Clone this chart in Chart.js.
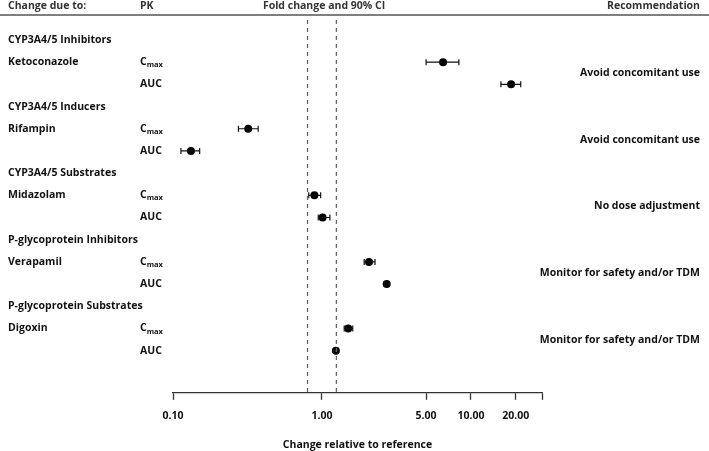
<!DOCTYPE html>
<html>
<head>
<meta charset="utf-8">
<script src="https://cdn.jsdelivr.net/npm/chart.js@4/dist/chart.umd.min.js"></script>
<style>
    body { margin: 0; background: #fff; }
    #wrap { width: 709px; height: 451px; position: relative; }
</style>
</head>
<body>
<div id="wrap"><canvas id="ddiChart"></canvas></div>
<script>
// Dados do gráfico
const groups = ['CYP3A4/5 Inhibitors', 'CYP3A4/5 Inducers', 'CYP3A4/5 Substrates', 'P-glycoprotein Inhibitors', 'P-glycoprotein Substrates'];
const drugs = ['Ketoconazole', 'Rifampin', 'Midazolam', 'Verapamil', 'Digoxin'];
const recommendations = ['Avoid concomitant use', 'Avoid concomitant use', 'No dose adjustment', 'Monitor for safety and/or TDM', 'Monitor for safety and/or TDM'];
const cmaxRatio = [6.5, 0.32, 0.89, 2.07, 1.50];
const cmaxLower = [5.0, 0.275, 0.815, 1.92, 1.41];
const cmaxUpper = [8.3, 0.373, 0.98, 2.27, 1.61];
const aucRatio = [18.6, 0.132, 1.01, 2.72, 1.24];
const aucLower = [15.9, 0.113, 0.944, 2.62, 1.20];
const aucUpper = [21.6, 0.151, 1.13, 2.84, 1.28];
const xTicks = [0.1, 1, 5, 10, 20, 30];
const ciBounds = [0.8, 1.25];

const FONT = "'Open Sans', 'DejaVu Sans', sans-serif";
const yMin = -0.9, yMax = 15.9;

// linhas: grupo i -> linha 3i (titulo), 3i+1 (Cmax), 3i+2 (AUC)
const datasets = [];

ciBounds.forEach(b => {
    datasets.push({
        data: [{ x: b, y: yMin }, { x: b, y: yMax }],
        showLine: true,
        borderColor: '#666',
        borderWidth: 1.3,
        borderDash: [4, 4],
        pointRadius: 0
    });
});

function errorBar(lo, hi, row) {
    datasets.push({
        data: [{ x: lo, y: row }, { x: hi, y: row }],
        showLine: true,
        borderColor: '#111',
        borderWidth: 1.2,
        pointStyle: 'line',
        rotation: 90,
        pointRadius: 3,
        pointBorderColor: '#111',
        pointBorderWidth: 1.2
    });
}

const centers = [];
for (let i = 0; i < drugs.length; i++) {
    errorBar(cmaxLower[i], cmaxUpper[i], 3 * i + 1);
    errorBar(aucLower[i], aucUpper[i], 3 * i + 2);
    centers.push({ x: cmaxRatio[i], y: 3 * i + 1 });
    centers.push({ x: aucRatio[i], y: 3 * i + 2 });
}

datasets.push({
    data: centers,
    pointRadius: 4,
    pointBackgroundColor: '#000',
    pointBorderColor: '#000',
    pointBorderWidth: 0
});

// Textos das colunas (grupos, farmacos, PK, recomendacoes)
const tablePlugin = {
    id: 'tableText',
    afterDraw(chart) {
        const c = chart.ctx;
        const y = chart.scales.y;
        const W = chart.width;
        c.save();
        c.textBaseline = 'middle';

        // cabecalho
        c.fillStyle = '#333';
        c.font = 'bold 10.5px ' + FONT;
        c.textAlign = 'left';
        c.fillText('Change due to:', 8, 6);
        c.fillText('PK', 140, 6);
        c.textAlign = 'center';
        c.fillText('Fold change and 90% CI', 324, 6);
        c.textAlign = 'right';
        c.fillText('Recommendation', 700, 6);
        c.strokeStyle = '#555';
        c.lineWidth = 1.5;
        c.beginPath();
        c.moveTo(0, 15);
        c.lineTo(W, 15);
        c.stroke();

        c.fillStyle = '#111';
        for (let i = 0; i < groups.length; i++) {
            const yg = y.getPixelForValue(3 * i);
            const yc = y.getPixelForValue(3 * i + 1);
            const ya = y.getPixelForValue(3 * i + 2);
            c.font = 'bold 10.5px ' + FONT;
            c.textAlign = 'left';
            c.fillText(groups[i], 8, yg);
            c.fillText(drugs[i], 8, yc);
            c.fillText('C', 140, yc);
            const cw = c.measureText('C').width;
            c.fillText('AUC', 140, ya);
            c.font = 'bold 7.5px ' + FONT;
            c.fillText('max', 140 + cw, yc + 3);
            c.font = 'bold 10.5px ' + FONT;
            c.textAlign = 'right';
            c.fillText(recommendations[i], 700, (yc + ya) / 2);
        }
        c.restore();
    }
};

const ctx = document.getElementById('ddiChart').getContext('2d');

new Chart(ctx, {
    type: 'scatter',
    data: { datasets: datasets },
    options: {
        responsive: true,
        maintainAspectRatio: false,
        animation: false,
        layout: { padding: { left: 173, right: 167, top: 20, bottom: 0 } },
        plugins: {
            legend: { display: false },
            tooltip: { enabled: false }
        },
        scales: {
            x: {
                type: 'logarithmic',
                min: 0.1,
                max: 30,
                afterBuildTicks: (scale) => {
                    scale.ticks = xTicks.map(v => ({ value: v }));
                },
                ticks: {
                    autoSkip: false,
                    maxRotation: 0,
                    color: '#111',
                    padding: 10,
                    font: { size: 10.5, weight: 'bold', family: FONT },
                    callback: (v) => v === 30 ? '' : Number(v).toFixed(2)
                },
                grid: {
                    drawOnChartArea: false,
                    drawTicks: true,
                    tickLength: 7,
                    tickWidth: 1.3,
                    tickColor: '#333'
                },
                border: { display: true, color: '#333', width: 1.3 },
                title: {
                    display: true,
                    text: 'Change relative to reference',
                    color: '#111',
                    padding: { top: 6, bottom: 0 },
                    font: { size: 10.5, weight: 'bold', family: FONT }
                }
            },
            y: {
                type: 'linear',
                min: yMin,
                max: yMax,
                reverse: true,
                display: false
            }
        }
    },
    plugins: [tablePlugin]
});
</script>
</body>
</html>
